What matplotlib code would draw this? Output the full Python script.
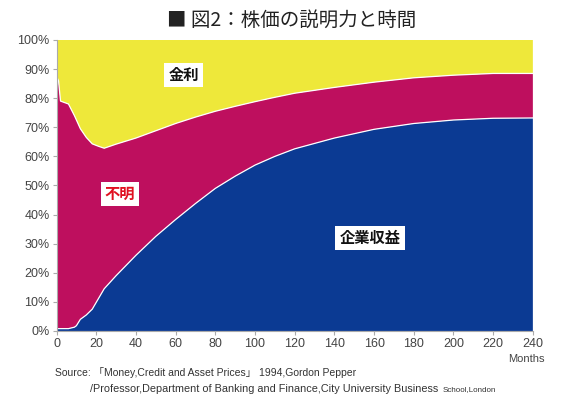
import matplotlib
matplotlib.use("Agg")
import matplotlib.pyplot as plt
import numpy as np

plt.rcParams['font.family'] = ['Noto Sans CJK JP', 'DejaVu Sans']

# months since start
months = [0, 1, 2, 6, 9, 10, 12, 15, 18, 21, 24, 30, 40, 50, 60, 70, 80,
          90, 100, 110, 120, 140, 160, 180, 200, 220, 240]
# share explained by corporate earnings (%)
earnings = [0.8, 0.8, 0.8, 0.8, 1.3, 1.8, 4.0, 5.5, 7.5, 11.0, 14.5, 19.0, 26.0,
            32.5, 38.3, 43.8, 49.0, 53.2, 57.0, 60.0, 62.6, 66.3, 69.3, 71.3,
            72.5, 73.1, 73.2]
# earnings + unknown, cumulative (%)
upper = [87.5, 86.0, 79.0, 78.0, 74.0, 72.5, 69.5, 66.5, 64.3, 63.5, 62.8, 64.2,
         66.3, 68.8, 71.3, 73.5, 75.5, 77.2, 78.8, 80.3, 81.7, 83.7, 85.5, 87.0,
         87.9, 88.5, 88.5]

xticks = list(range(0, 241, 20))
yticks = list(range(0, 101, 10))

e = np.array(earnings)
u = np.array(upper)
unknown = u - e
rates = 100 - u

fig = plt.figure(figsize=(5.83, 3.94), dpi=100)
ax = fig.add_axes([0.097, 0.16, 0.817, 0.7385])

ax.stackplot(months, e, unknown, rates,
             colors=['#0B3A93', '#BE0F5E', '#EEE83A'], linewidth=0)
ax.plot(months, e, color='white', lw=0.9)
ax.plot(months, u, color='white', lw=0.9)

ax.set_xlim(0, 240)
ax.set_ylim(0, 100)
ax.set_xticks(xticks)
ax.set_yticks(yticks)
ax.set_yticklabels(['%d%%' % v for v in yticks])
tick_font = ['Liberation Sans', 'Noto Sans CJK JP']
for lab in ax.get_xticklabels() + ax.get_yticklabels():
    lab.set_family(tick_font)
    lab.set_fontsize(9)
    lab.set_color('#444444')
ax.tick_params(length=3, color='#aaaaaa', pad=2)
for s in ['top', 'right']:
    ax.spines[s].set_visible(False)
for s in ['left', 'bottom']:
    ax.spines[s].set_color('#aaaaaa')

box = dict(facecolor='white', edgecolor='none', pad=3)
ax.text(64, 88, '金利', fontsize=11, fontweight='bold', color='#111111',
        ha='center', va='center', bbox=box)
ax.text(32, 47, '不明', fontsize=11, fontweight='bold', color='#E01020',
        ha='center', va='center', bbox=box)
ax.text(158, 32, '企業収益', fontsize=11, fontweight='bold', color='#111111',
        ha='center', va='center', bbox=box)

fig.text(0.50, 0.948, '■ 図2：株価の説明力と時間', fontsize=14,
         ha='center', va='center', color='#222222')
fig.text(0.935, 0.088, 'Months', fontsize=8, ha='right', va='center',
         color='#444444', family=tick_font)
fig.text(0.094, 0.055, 'Source: 「Money,Credit and Asset Prices」 1994,Gordon Pepper',
         fontsize=7.5, ha='left', va='center', color='#333333', family=tick_font)
t2 = fig.text(0.155, 0.0,
              '/Professor,Department of Banking and Finance,City University Business',
              fontsize=7.8, ha='left', va='bottom', color='#333333',
              family=tick_font)
ax.annotate('School,London', xy=(1, 0), xycoords=t2, xytext=(3, 0.6),
            textcoords='offset points', fontsize=5.8, ha='left', va='bottom',
            color='#333333', family=tick_font, annotation_clip=False)

fig.savefig('out.png', dpi=100)
